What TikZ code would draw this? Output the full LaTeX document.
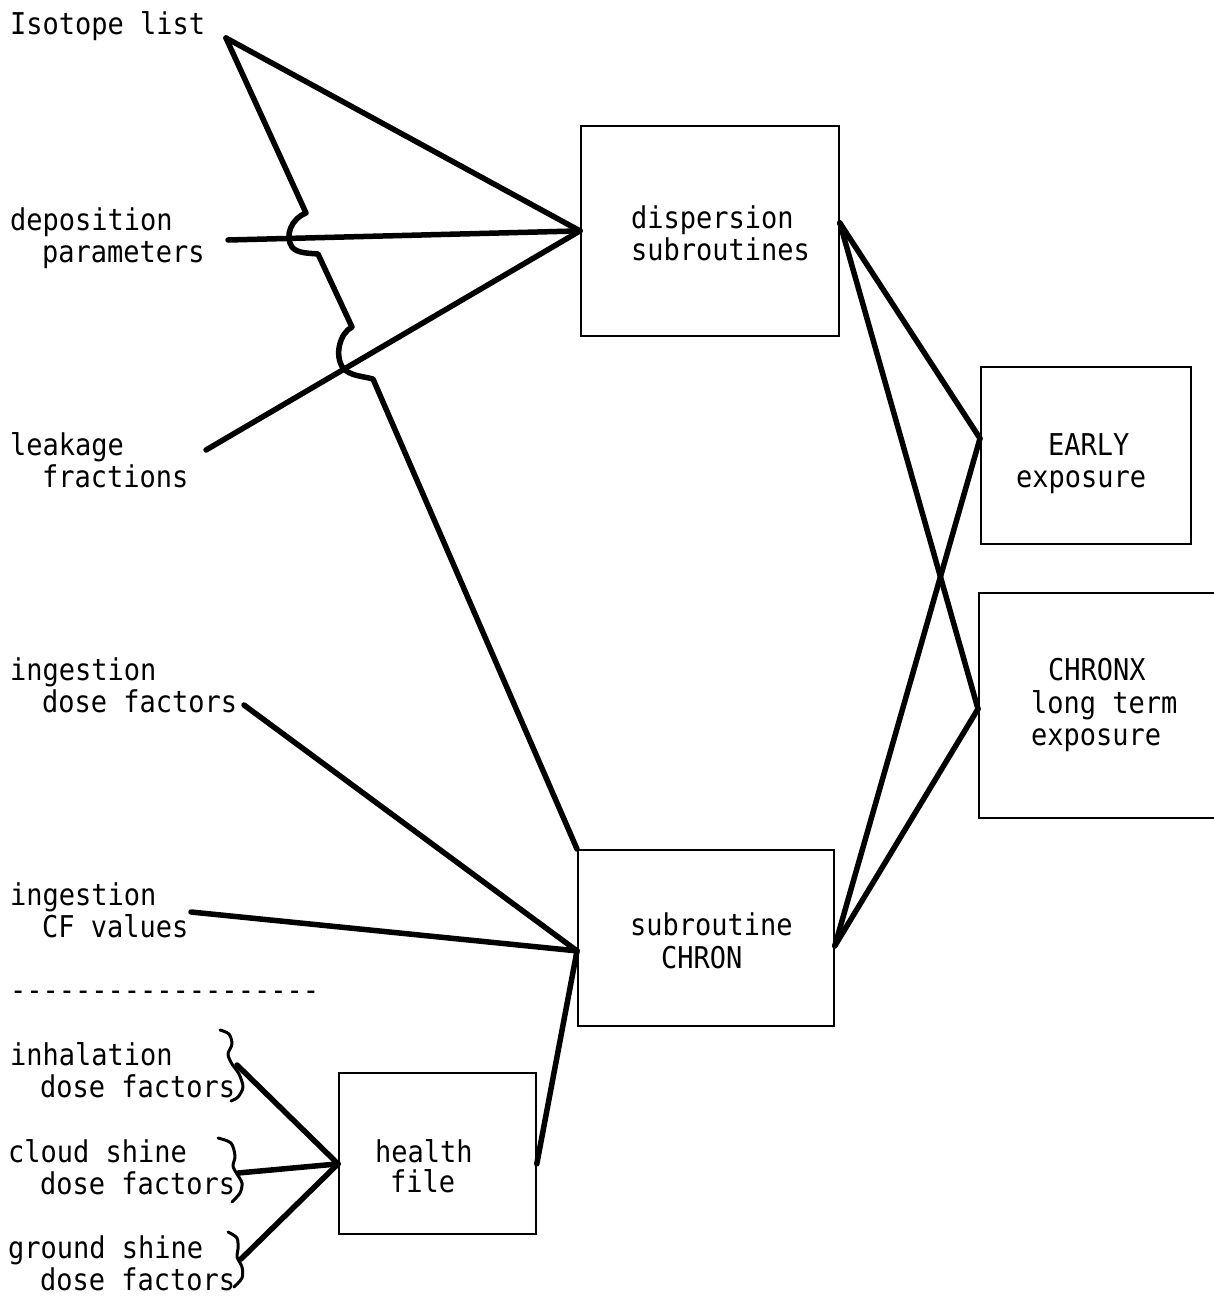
\documentclass[tikz,border=0pt]{standalone}
\usepackage{fontspec}
\setmonofont[FakeStretch=0.9]{DejaVu Sans Mono}
\newcommand\hy{-\kern0pt}
\begin{document}
\begin{tikzpicture}[x=1pt,y=-1pt,
  txt/.style={font=\ttfamily\fontsize{30}{32}\selectfont, inner sep=0pt, anchor=base west},
  box/.style={draw, line width=1.8pt, inner sep=0pt, anchor=north west},
  link/.style={line width=5.5pt, line cap=round, line join=round},
  curl/.style={line width=3pt, line cap=round, line join=round}]
\useasboundingbox (0,0) rectangle (1214,1298);
\fill[white] (0,0) rectangle (1214,1298);

% boxes
\node[box, minimum width=258pt, minimum height=210pt] (disp)   at (580,125)  {};
\node[box, minimum width=210pt, minimum height=177pt] (early)  at (980,366)  {};
\node[box, minimum width=260pt, minimum height=225pt] (chronx) at (978,592)  {};
\node[box, minimum width=256pt, minimum height=176pt] (chron)  at (577,849)  {};
\node[box, minimum width=197pt, minimum height=161pt] (health) at (338,1072) {};

% box texts
\node[txt] (dispA)   at (631,228)  {dispersion};
\node[txt] (dispB)   at (631,260)  {subroutines};
\node[txt] (earlyA)  at (1048,455) {EARLY};
\node[txt] (earlyB)  at (1016,487) {exposure};
\node[txt] (chronxA) at (1048,680) {CHRONX};
\node[txt] (chronxB) at (1031,713) {long term};
\node[txt] (chronxC) at (1031,745) {exposure};
\node[txt] (chronA)  at (630,935)  {subroutine};
\node[txt] (chronB)  at (661,968)  {CHRON};
\node[txt] (healthA) at (375,1162) {health};
\node[txt] (healthB) at (390,1192) {file};

% input labels
\node[txt] (iso)    at (10,35)   {Isotope list};
\node[txt] (depA)   at (10,230)  {deposition};
\node[txt] (depB)   at (42,262)  {parameters};
\node[txt] (leakA)  at (10,455)  {leakage};
\node[txt] (leakB)  at (42,487)  {fractions};
\node[txt] (ingdA)  at (10,680)  {ingestion};
\node[txt] (ingdB)  at (42,712)  {dose factors};
\node[txt] (ingcA)  at (10,905)  {ingestion};
\node[txt] (ingcB)  at (42,937)  {CF values};
\node[txt] (sep)    at (10,1000) {\hy\hy\hy\hy\hy\hy\hy\hy\hy\hy\hy\hy\hy\hy\hy\hy\hy\hy\hy};
\node[txt] (inhA)   at (10,1065) {inhalation};
\node[txt] (inhB)   at (40,1097) {dose factors};
\node[txt] (cldA)   at (8,1162)  {cloud shine};
\node[txt] (cldB)   at (40,1194) {dose factors};
\node[txt] (grdA)   at (8,1258)  {ground shine};
\node[txt] (grdB)   at (40,1290) {dose factors};

% free ends of the input lines
\coordinate (isoEnd)  at (226,38);
\coordinate (depEnd)  at (228,240);
\coordinate (leakEnd) at (206,450);
\coordinate (ingdEnd) at (244,705);
\coordinate (ingcEnd) at (191,912);
\coordinate (inhEnd)  at (237,1065);
\coordinate (cldEnd)  at (238,1173);
\coordinate (grdEnd)  at (241,1259);

% braces grouping the health file inputs
\draw[curl] plot[smooth] coordinates {(220,1030) (229,1034) (232,1044) (228,1054) (232,1064) (239,1074) (243,1087) (238,1097) (231,1101)};
\draw[curl] plot[smooth] coordinates {(218,1138) (231,1143) (235,1156) (233,1166) (237,1174) (242,1183) (240,1193) (232,1202)};
\draw[curl] plot[smooth] coordinates {(228,1232) (237,1238) (238,1249) (237,1257) (242,1267) (242,1278) (234,1287)};

% inputs to the dispersion subroutines
\draw[link] (isoEnd) -- (disp.west);
\draw[link] (depEnd) -- (disp.west);
\draw[link] (leakEnd) -- (disp.west);

% isotope list to subroutine CHRON, hopping over two lines
\draw[link] (isoEnd) -- (306,213)
  .. controls (292,218) and (284,236) .. (292,247)
  .. controls (297,253) and (306,253) .. (318,254)
  -- (352,327)
  .. controls (340,333) and (334,355) .. (343,368)
  .. controls (350,376) and (362,376) .. (373,379)
  -- (chron.north west);

% inputs to subroutine CHRON
\draw[link] (ingdEnd) -- ([yshift=-13pt]chron.west);
\draw[link] (ingcEnd) -- ([yshift=-13pt]chron.west);
\draw[link] ([yshift=-10.5pt]health.east) -- ([yshift=-13pt]chron.west);

% inputs to the health file
\draw[link] (inhEnd) -- ([yshift=-10.5pt]health.west);
\draw[link] (cldEnd) -- ([yshift=-10.5pt]health.west);
\draw[link] (grdEnd) -- ([yshift=-10.5pt]health.west);

% outputs to the exposure modules
\draw[link] ([yshift=8pt]disp.east) -- ([yshift=17pt]early.west);
\draw[link] ([yshift=8pt]disp.east) -- ([yshift=-3.5pt]chronx.west);
\draw[link] ([yshift=-8pt]chron.east) -- ([yshift=17pt]early.west);
\draw[link] ([yshift=-8pt]chron.east) -- ([yshift=-3.5pt]chronx.west);
\end{tikzpicture}
\end{document}
